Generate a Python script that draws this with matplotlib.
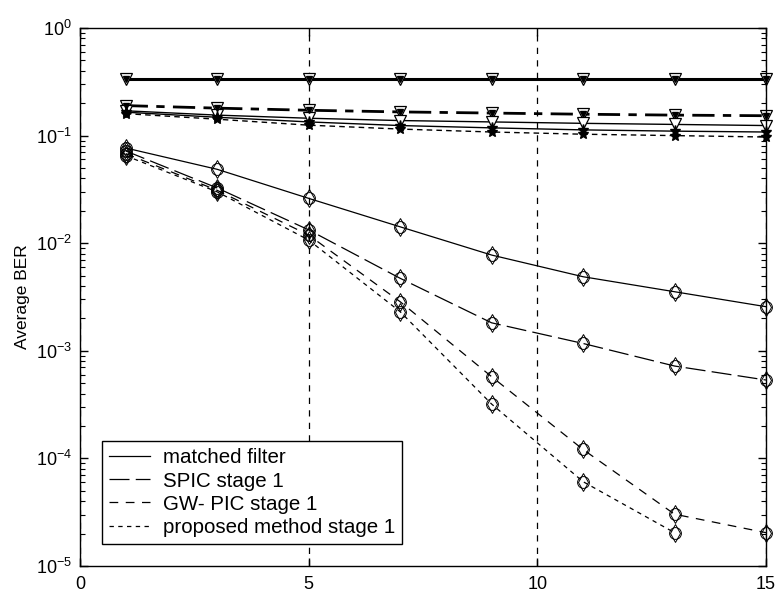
import numpy as np
import matplotlib
matplotlib.use('Agg')
import matplotlib.pyplot as plt

plt.rcParams['font.family'] = ['Liberation Sans', 'DejaVu Sans']
plt.rcParams['mathtext.default'] = 'regular'
plt.rcParams['axes.unicode_minus'] = False

# Eb/No points
x = [1, 3, 5, 7, 9, 11, 13, 15]
x_prop = [1, 3, 5, 7, 9, 11, 13]

# lower group (legend curves)
ber_mf = [0.0767, 0.0486, 0.0261, 0.0142, 0.00776, 0.00488, 0.00354, 0.00257]
ber_spic = [0.072, 0.0326, 0.0133, 0.00472, 0.00182, 0.00117, 0.000722, 0.000535]
ber_gw = [0.068, 0.031, 0.0119, 0.00286, 0.000575, 0.000121, 3.03e-5, 2.04e-5]
ber_prop = [0.065, 0.030, 0.0107, 0.00231, 0.00032, 6.08e-5, 2.04e-5]

# upper group
ber_top = [0.335, 0.335, 0.335, 0.335, 0.335, 0.335, 0.335, 0.335]
ber_dd = [0.19, 0.18, 0.172, 0.166, 0.162, 0.158, 0.155, 0.153]
ber_sa = [0.17, 0.155, 0.145, 0.138, 0.134, 0.13, 0.127, 0.124]
ber_sb = [0.165, 0.148, 0.134, 0.124, 0.118, 0.113, 0.11, 0.108]
ber_dsh = [0.16, 0.142, 0.125, 0.115, 0.108, 0.103, 0.1, 0.097]

labels = ['matched filter', 'SPIC stage 1', 'GW- PIC stage 1', 'proposed method stage 1']

fig = plt.figure(figsize=(7.79, 5.93), dpi=100)
ax = fig.add_axes([80/779, 1-566/593, 686/779, 538/593])

# upper group
ax.plot(x, ber_top, color='k', lw=2.2)
ax.plot(x, ber_dd, color='k', lw=2.0, ls=(0, (8, 3, 3, 3)))
ax.plot(x, ber_sa, color='k', lw=1.0)
ax.plot(x, ber_sb, color='k', lw=1.0)
ax.plot(x, ber_dsh, color='k', lw=1.0, ls=(0, (4, 3)))
for yy in [ber_top, ber_dd, ber_sa]:
    ax.plot(x, yy, 'v', mfc='white', mec='k', ms=8, mew=0.9, ls='none', clip_on=False)
for yy in [ber_top, ber_dd]:
    ax.plot(x, yy, 'v', color='k', ms=5, ls='none', clip_on=False)
for yy in [ber_sb, ber_dsh]:
    ax.plot(x, yy, '*', color='k', ms=8, ls='none', clip_on=False)

# lower group
h1, = ax.plot(x, ber_mf, color='k', lw=0.9, label=labels[0])
h2, = ax.plot(x, ber_spic, color='k', lw=0.9, ls=(0, (16, 5)), label=labels[1])
h3, = ax.plot(x, ber_gw, color='k', lw=0.9, ls=(0, (7, 6)), label=labels[2])
h4, = ax.plot(x_prop, ber_prop, color='k', lw=0.9, ls=(0, (3.5, 3.5)), label=labels[3])
for xx, yy in [(x, ber_mf), (x, ber_spic), (x, ber_gw), (x_prop, ber_prop)]:
    ax.plot(xx, yy, 'o', mfc='none', mec='k', ms=8.5, mew=0.7, ls='none', clip_on=False)
    ax.plot(xx, yy, 'd', mfc='none', mec='k', ms=9, mew=0.7, ls='none', clip_on=False)

ax.set_yscale('log')
ax.set_xlim(0, 15)
ax.set_ylim(1e-5, 1)
ax.set_xticks([0, 5, 10, 15])
ax.set_yticks([1e-5, 1e-4, 1e-3, 1e-2, 1e-1, 1])
ax.set_yticklabels(['$10^{-5}$', '$10^{-4}$', '$10^{-3}$', '$10^{-2}$', '$10^{-1}$', '$10^{0}$'])
ax.tick_params(which='both', direction='in', top=True, right=True, labelsize=13)
ax.tick_params(which='major', length=6, width=1)
ax.tick_params(which='minor', length=3.5, width=0.8)
ax.tick_params(axis='x', pad=7)
ax.tick_params(axis='y', pad=6)
ax.xaxis.grid(True, color='k', ls=(0, (5, 5)), lw=0.9)
for s in ax.spines.values():
    s.set_linewidth(1.0)
ax.set_ylabel('Average BER', fontsize=12.5, labelpad=4)

leg = ax.legend(handles=[h1, h2, h3, h4], loc='lower left', bbox_to_anchor=(0.032, 0.041),
                borderaxespad=0, fancybox=False, edgecolor='k', framealpha=1,
                fontsize=14.8, handlelength=2.0, handletextpad=0.6, labelspacing=0.2,
                borderpad=0.35)
leg.get_frame().set_linewidth(1.0)

fig.savefig('out.png', dpi=100)
